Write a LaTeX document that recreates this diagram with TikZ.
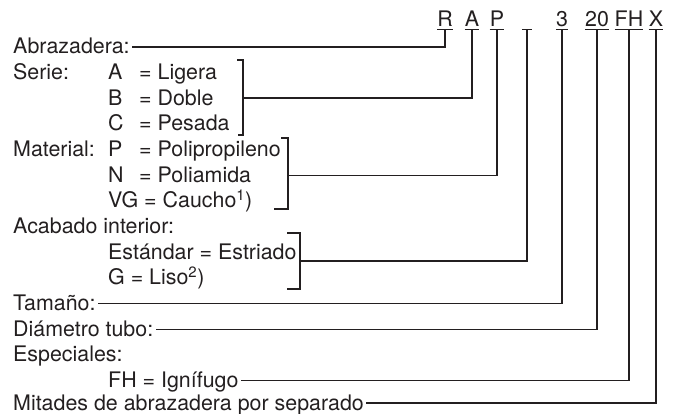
\documentclass[tikz,border=0pt]{standalone}
\usepackage{fontspec}
\setmainfont{TeX Gyre Heros}
\usetikzlibrary{positioning}
\definecolor{ink}{RGB}{35,31,32}

\begin{document}
\begin{tikzpicture}[x=1pt, y=-1pt,
    lbl/.style={anchor=base west, inner xsep=2.5pt, inner ysep=0pt, text height=14pt, text depth=0pt,
                font=\fontsize{21.4}{25}\selectfont, text=ink},
    code/.style={anchor=base, inner sep=0pt, text depth=2.5pt, font=\fontsize{21.4}{25}\selectfont, text=ink},
    link/.style={draw=ink, line width=1.1pt}]
    \useasboundingbox (0,0) rectangle (676,414);

    % Codigo
    \node[code] (cR)  at (445,27) {R};
    \node[code] (cA)  at (472,27) {A};
    \node[code] (cP)  at (497,27) {P};
    \node[code, minimum width=10pt] (cGap) at (527,27) {};
    \node[code] (c3)  at (562,27) {3};
    \node[code] (c20) at (597,27) {20};
    \node[code] (cFH) at (629,27) {FH};
    \node[code] (cX)  at (656,27) {X};
    \foreach \c in {cR,cA,cP,cGap,c3,c20,cFH,cX}
        \draw[link] (\c.south west) -- (\c.south east);

    % Textos
    \node[lbl] (abr)  at (10.5,54)     {Abrazadera:};
    \node[lbl] (ser)  at (10.5,79.65)  {Serie:};
    \node[lbl] (sA)   at (105.5,79.65) {A};
    \node[lbl] (sAt)  at (136.5,79.65) {= Ligera};
    \node[lbl] (sB)   at (105.5,105.3) {B};
    \node[lbl] (sBt)  at (136.5,105.3) {= Doble};
    \node[lbl] (sC)   at (105.5,130.95) {C};
    \node[lbl] (sCt)  at (136.5,130.95) {= Pesada};
    \node[lbl] (mat)  at (10.5,156.6)  {Material:};
    \node[lbl] (mP)   at (105.5,156.6) {P};
    \node[lbl] (mPt)  at (136.5,156.6) {= Polipropileno};
    \node[lbl] (mN)   at (105.5,182.25) {N};
    \node[lbl] (mNt)  at (136.5,182.25) {= Poliamida};
    \node[lbl] (mVG)  at (105.5,207.9) {VG = Caucho\textsuperscript{1})};
    \node[lbl] (aca)  at (10.5,233.55) {Acabado interior:};
    \node[lbl] (aEs)  at (105.5,259.2) {Estándar = Estriado};
    \node[lbl] (aG)   at (105.5,284.85) {G = Liso\textsuperscript{2})};
    \node[lbl] (tam)  at (10.5,310.5)  {Tamaño:};
    \node[lbl] (dia)  at (10.5,336.15) {Diámetro tubo:};
    \node[lbl] (esp)  at (10.5,361.8)  {Especiales:};
    \node[lbl] (fhi)  at (105.5,387.45) {FH = Ignífugo};
    \node[lbl] (mit)  at (10.5,410)    {Mitades de abrazadera por separado};

    % Llaves
    \draw[link] (237,60) -- (243,60) -- (243,135) -- (238,135);
    \coordinate (serM) at (243,98);
    \draw[link] (281,138) -- (288,138) -- (288,209) -- (274,209);
    \coordinate (matM) at (288,175.5);
    \draw[link] (287,233) -- (300,233) -- (300,289) -- (287,289);
    \coordinate (acaM) at (300,261);

    % Lineas
    \draw[link] (cR.south)   |- (abr.east);
    \draw[link] (cA.south)   |- (serM);
    \draw[link] (cP.south)   |- (matM);
    \draw[link] (cGap.south) |- (acaM);
    \draw[link] (c3.south)   |- (tam.east);
    \draw[link] (c20.south)  |- (dia.east);
    \draw[link] (cFH.south)  |- (fhi.east);
    \draw[link] (cX.south)   |- (mit.east);
\end{tikzpicture}
\end{document}
